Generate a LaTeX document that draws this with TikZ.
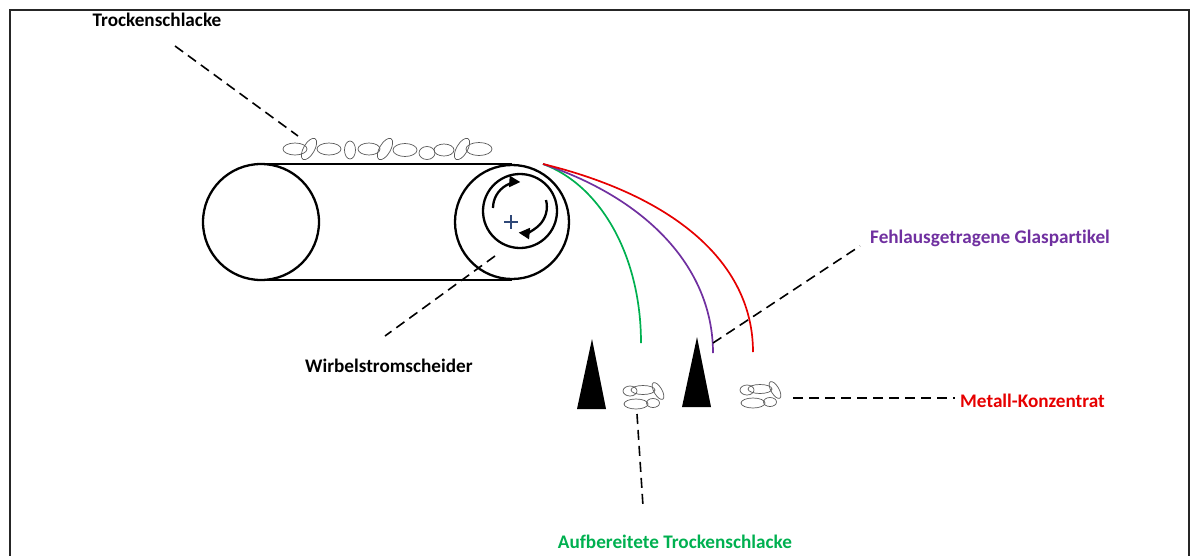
\documentclass[tikz,border=0pt]{standalone}
\usepackage{fontspec}
\setmainfont{Carlito}[Ligatures=NoCommon]
\usetikzlibrary{arrows.meta}
\definecolor{lgreen}{RGB}{0,176,80}
\definecolor{lpurple}{RGB}{112,48,160}
\definecolor{lred}{RGB}{230,0,0}
\definecolor{plusblue}{RGB}{47,72,120}
\tikzset{
  belt/.style={line width=2.3pt, black},
  leader/.style={line width=1.6pt, dash pattern=on 10pt off 6pt, black},
  grain/.style={line width=0.7pt, draw=black!65},
  label/.style={font=\fontsize{19.2}{23}\selectfont\bfseries, inner sep=0pt},
  flow/.style={line width=1.7pt},
  spin/.style={line width=2.3pt, -{Triangle[length=11pt,width=11pt]}},
  clump/.pic={
    \draw[grain] (0,0) ellipse [x radius=7, y radius=5];
    \draw[grain] (13,-1) ellipse [x radius=12, y radius=4.5];
    \draw[grain] (28,0) ellipse [x radius=9.5, y radius=4, rotate=-60];
    \draw[grain] (6,13) ellipse [x radius=12, y radius=5];
    \draw[grain] (23,12) ellipse [x radius=6.5, y radius=4.5];
  }
}
\begin{document}
\begin{tikzpicture}[x=1pt, y=-1pt]
\useasboundingbox (0,0) rectangle (1194,555);
% frame
\draw[line width=1.5pt, black!85] (10,560) -- (10,10) -- (1189,10) -- (1189,560);

% conveyor belt
\draw[belt] (261,222) circle [radius=58];
\draw[belt] (512,222) circle [radius=57];
\draw[belt] (261,164) -- (512,164);
\draw[belt] (261,280) -- (512,280);

% eddy current rotor
\draw[belt] (520,211) circle [radius=37];
\draw[spin] (493,208) arc [start angle=180, end angle=273, radius=26];
\draw[spin] (546,200) arc [start angle=-15, end angle=95, radius=26];
\draw[line width=2pt, plusblue] (504,222) -- (518,222) (511,215) -- (511,229);

% slag grains on the belt
\draw[grain] (295,149) ellipse [x radius=12, y radius=6];
\draw[grain] (309,149) ellipse [x radius=12, y radius=5.5, rotate=60];
\draw[grain] (329,149) ellipse [x radius=12, y radius=6];
\draw[grain] (350,150) ellipse [x radius=5.5, y radius=9];
\draw[grain] (369,149) ellipse [x radius=11, y radius=6];
\draw[grain] (385,149) ellipse [x radius=12, y radius=5.5, rotate=60];
\draw[grain] (405,150) ellipse [x radius=12, y radius=6.5];
\draw[grain] (427,153) ellipse [x radius=8, y radius=6.5];
\draw[grain] (444,150) ellipse [x radius=10, y radius=6];
\draw[grain] (462,149) ellipse [x radius=12, y radius=5.5, rotate=60];
\draw[grain] (479,149) ellipse [x radius=13, y radius=6.5];

% trajectories
\coordinate (throw) at (543,164);
\coordinate (gEnd) at (641,343);
\coordinate (pEnd) at (713,353);
\coordinate (rEnd) at (753,352);
\draw[flow, lgreen] (throw) .. controls (600,185) and (641,255) .. (gEnd);
\draw[flow, lpurple] (throw) .. controls (650,200) and (713,270) .. (pEnd);
\draw[flow, lred] (throw) .. controls (670,195) and (753,260) .. (rEnd);

% splitters
\fill (577,409) -- (592,339) -- (606,409) -- cycle;
\fill (682,407) -- (697,337) -- (711,407) -- cycle;

% separated fractions
\pic at (630,391) {clump};
\pic at (747,390) {clump};

% labels
\node[label, anchor=center] (tslab) at (157,20) {Trockenschlacke};
\node[label, anchor=west] (wslab) at (305,366) {Wirbelstromscheider};
\node[label, anchor=west, text=lpurple] (fglab) at (870,238) {Fehlausgetragene Glaspartikel};
\node[label, anchor=west, text=lred] (mklab) at (960,401) {Metall-Konzentrat};
\node[label, anchor=base, text=lgreen] (atlab) at (675,548) {Aufbereitete Trockenschlacke};

% leader lines
\coordinate (tsA) at (175,46);
\coordinate (tsB) at (298,136);
\coordinate (wsA) at (495,256);
\coordinate (wsB) at (385,336);
\coordinate (fgA) at (713,343);
\coordinate (fgB) at (860,246);
\coordinate (mkA) at (793,398);
\coordinate (mkB) at (955,398);
\coordinate (atA) at (637,414);
\coordinate (atB) at (643,506);
\draw[leader] (tsA) -- (tsB);
\draw[leader] (wsA) -- (wsB);
\draw[leader] (fgA) -- (fgB);
\draw[leader] (mkA) -- (mkB);
\draw[leader] (atA) -- (atB);
\end{tikzpicture}
\end{document}
